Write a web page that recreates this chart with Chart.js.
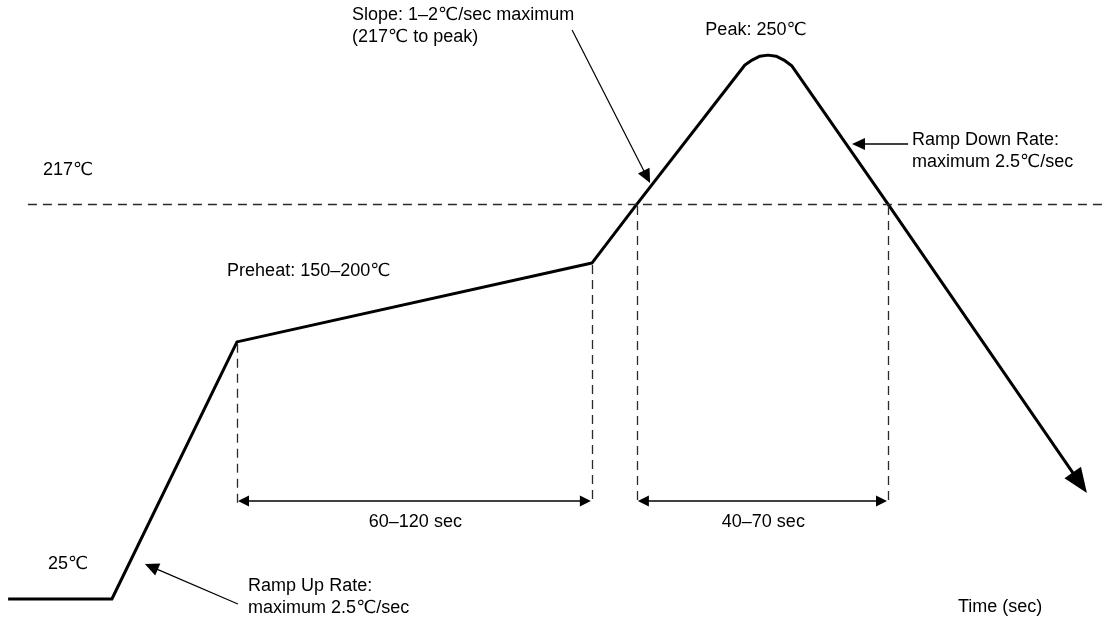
<!DOCTYPE html>
<html>
<head>
<meta charset="utf-8">
<script src="https://cdn.jsdelivr.net/npm/chart.js@4/dist/chart.umd.min.js"></script>
<style>
  html, body { margin: 0; padding: 0; background: #fff; }
  #wrap { width: 1104px; height: 623px; position: relative; }
</style>
</head>
<body>
<div id="wrap"><canvas id="c"></canvas></div>
<script>
// Schematic reflow profile: time (arbitrary schematic units) vs temperature (℃)
const times = [2.7, 37.3, 79, 197.3, 212.3, 248.3, 250.7, 253.3, 256, 258.7, 261.3, 264, 296, 359.3];
const temps = [25, 25, 150, 188.3, 217, 284.6, 287.0, 288.9, 289.4, 288.9, 287.0, 284.1, 217, 82.8];
const endArrowTip = [362.3, 76.5];
const liquidusTemp = 217;
const spanStarts = [79, 212.3];
const spanEnds = [197.3, 296];
const spanTopTemps = [[150, 188.3], [217, 217]];
const spanLabels = ['60–120 sec', '40–70 sec'];
const xRange = [0, 368];
const yRange = [13.33, 316.2];

const FONT = '18px "Liberation Sans", Arial, "DejaVu Sans", sans-serif';

function arrowHead(ctx, x1, y1, x2, y2, len, half) {
  const a = Math.atan2(y2 - y1, x2 - x1);
  ctx.beginPath();
  ctx.moveTo(x2, y2);
  ctx.lineTo(x2 - len * Math.cos(a) + half * Math.sin(a), y2 - len * Math.sin(a) - half * Math.cos(a));
  ctx.lineTo(x2 - len * Math.cos(a) - half * Math.sin(a), y2 - len * Math.sin(a) + half * Math.cos(a));
  ctx.closePath();
  ctx.fill();
}
function arrow(ctx, x1, y1, x2, y2, len, half, lw) {
  const a = Math.atan2(y2 - y1, x2 - x1);
  ctx.lineWidth = lw;
  ctx.beginPath();
  ctx.moveTo(x1, y1);
  ctx.lineTo(x2 - (len - 1) * Math.cos(a), y2 - (len - 1) * Math.sin(a));
  ctx.stroke();
  arrowHead(ctx, x1, y1, x2, y2, len, half);
}

const annot = {
  id: 'annot',
  afterDatasetsDraw(chart) {
    const ctx = chart.ctx;
    const xs = chart.scales.x, ys = chart.scales.y;
    const X = v => xs.getPixelForValue(v), Y = v => ys.getPixelForValue(v);
    ctx.save();
    ctx.fillStyle = '#000';
    ctx.strokeStyle = '#000';

    // end arrowhead of profile
    const n = times.length - 1;
    arrowHead(ctx, X(times[n - 1]), Y(temps[n - 1]), X(endArrowTip[0]), Y(endArrowTip[1]), 25, 10);

    // dashed lines
    ctx.strokeStyle = '#2a2a2a';
    ctx.lineWidth = 1.3;
    ctx.setLineDash([9, 6]);
    ctx.beginPath();
    ctx.moveTo(X(9.3), Math.round(Y(liquidusTemp)) + 0.5);
    ctx.lineTo(X(xRange[1]), Math.round(Y(liquidusTemp)) + 0.5);
    ctx.stroke();
    const arrowLevel = 72.6, dashBottom = 70.7;
    for (let i = 0; i < spanStarts.length; i++) {
      [[spanStarts[i], spanTopTemps[i][0]], [spanEnds[i], spanTopTemps[i][1]]].forEach(([t, T]) => {
        const px = Math.round(X(t)) + 0.5;
        ctx.beginPath();
        ctx.moveTo(px, Y(T) + 2);
        ctx.lineTo(px, Y(dashBottom));
        ctx.stroke();
      });
    }
    ctx.setLineDash([]);

    // span double arrows
    ctx.strokeStyle = '#000';
    ctx.fillStyle = '#000';
    for (let i = 0; i < spanStarts.length; i++) {
      const y = Y(arrowLevel);
      const a = X(spanStarts[i]) + 1, b = X(spanEnds[i]) - 1;
      ctx.lineWidth = 1.5;
      ctx.beginPath(); ctx.moveTo(a + 8, y); ctx.lineTo(b - 8, y); ctx.stroke();
      arrowHead(ctx, b, y, a, y, 11, 5.5);
      arrowHead(ctx, a, y, b, y, 11, 5.5);
    }

    // callout arrows
    ctx.strokeStyle = '#000';
    arrow(ctx, X(190.7), Y(301.6), X(216.7), Y(227.2), 14, 6.5, 1.2);   // slope
    arrow(ctx, X(302.7), Y(246.2), X(284), Y(246.2), 13, 6, 1.5);       // ramp down
    arrow(ctx, X(79.3), Y(22.6), X(48.3), Y(42.0), 14, 6.5, 1.2);       // ramp up

    // texts
    ctx.font = FONT;
    ctx.fillStyle = '#000';
    ctx.textBaseline = 'middle';
    ctx.textAlign = 'left';
    const L = (s, t, T) => ctx.fillText(s, X(t), Y(T));
    L('217℃', 14.3, 233.5);
    L('25℃', 16, 42.0);
    L('Preheat: 150–200℃', 75.7, 184.4);
    L('Slope: 1–2℃/sec maximum', 117.3, 308.9);
    L('(217℃ to peak)', 117.3, 298.2);
    L('Ramp Down Rate:', 304, 248.1);
    L('maximum 2.5℃/sec', 304, 237.4);
    L('Ramp Up Rate:', 82.7, 31.3);
    L('maximum 2.5℃/sec', 82.7, 20.6);
    L('Time (sec)', 319.3, 21.1);
    ctx.textAlign = 'center';
    L('Peak: 250℃', 252, 301.6);
    for (let i = 0; i < spanStarts.length; i++) {
      L(spanLabels[i], (spanStarts[i] + spanEnds[i]) / 2 + 0.3, 62.4);
    }
    ctx.restore();
  }
};

new Chart(document.getElementById('c'), {
  type: 'scatter',
  data: {
    datasets: [{
      data: times.map((t, i) => ({ x: t, y: temps[i] })),
      showLine: true,
      borderColor: '#000',
      borderWidth: 3,
      pointRadius: 0,
      tension: 0,
      borderJoinStyle: 'round',
      clip: false
    }]
  },
  options: {
    responsive: true,
    maintainAspectRatio: false,
    animation: false,
    layout: { padding: 0 },
    plugins: { legend: { display: false }, tooltip: { enabled: false } },
    scales: {
      x: { type: 'linear', display: false, min: xRange[0], max: xRange[1] },
      y: { type: 'linear', display: false, min: yRange[0], max: yRange[1] }
    }
  },
  plugins: [annot]
});
</script>
</body>
</html>
